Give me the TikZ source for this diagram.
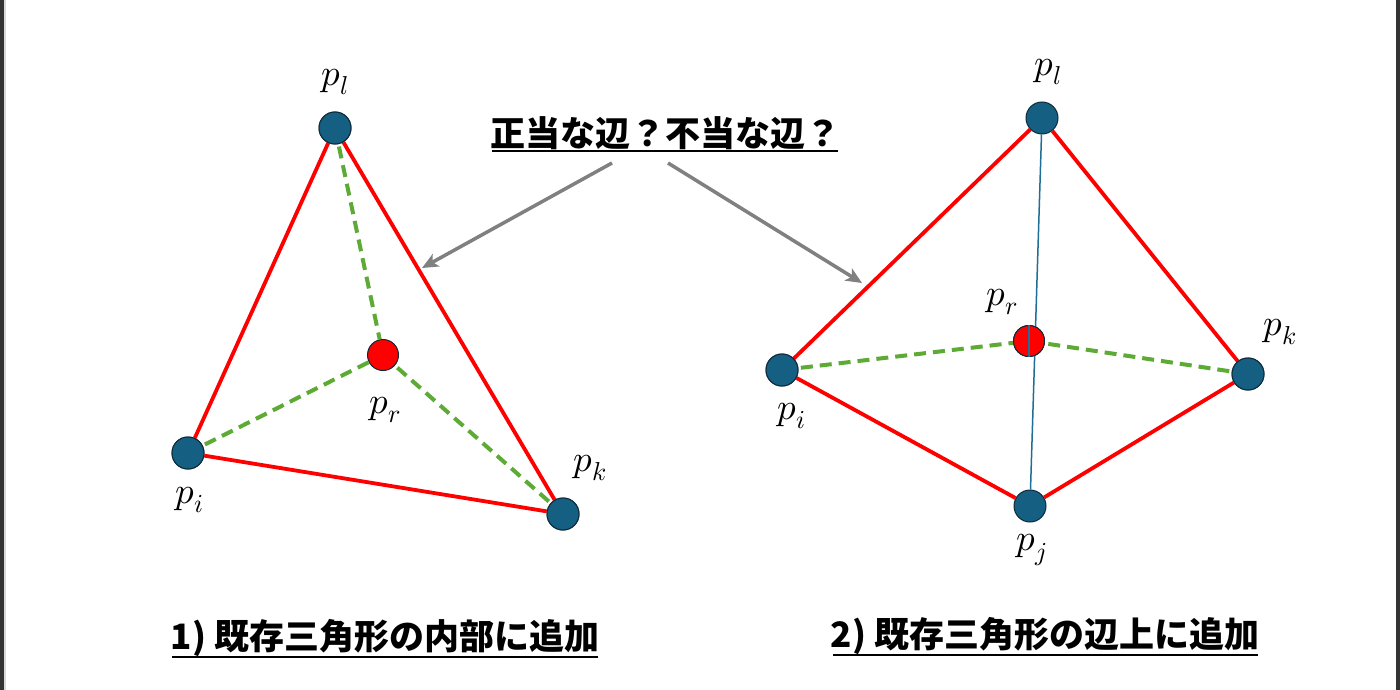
\documentclass[tikz,border=0pt]{standalone}
\usepackage{fontspec}
\usepackage{unicode-math}
\setmathfont{Latin Modern Math}
\newfontfamily\cjk{Noto Sans CJK JP}
\usetikzlibrary{arrows.meta}
\definecolor{ptblue}{HTML}{155F82}
\definecolor{ptedge}{HTML}{0E2A3A}
\definecolor{greend}{HTML}{5DAA35}
\definecolor{arrgray}{HTML}{808080}
\definecolor{thinblue}{HTML}{1F6E95}
\tikzset{
  pt/.style={circle, fill=ptblue, draw=ptedge, line width=1pt, minimum size=32pt, inner sep=0pt},
  rpt/.style={circle, fill=red, draw=ptedge, line width=1pt, minimum size=31pt, inner sep=0pt},
  redge/.style={draw=red, line width=3.8pt},
  gedge/.style={draw=greend, line width=4pt, dash pattern=on 12pt off 7pt},
  bedge/.style={draw=thinblue, line width=1.5pt},
  garrow/.style={draw=arrgray, line width=3.5pt, -{Stealth[length=16pt,width=14pt,inset=4pt]}},
  lbl/.style={font=\fontsize{37}{42}\selectfont, inner sep=0pt},
  jtxt/.style={font=\cjk\bfseries\fontsize{35}{40}\selectfont, inner sep=0pt},
  uline/.style={line width=2.5pt}
}
\begin{document}
\begin{tikzpicture}[x=1pt,y=-1pt]
\useasboundingbox (0,0) rectangle (1400,690);
\fill[white] (0,0) rectangle (1400,690);
\fill[black!80] (0,0) rectangle (4,690);
\fill[black!15] (4,0) rectangle (6,690);
\fill[black!80] (1396,0) rectangle (1400,690);
% left diagram
\node[pt]  (Ll) at (335,128) {};
\node[pt]  (Li) at (188,453) {};
\node[pt]  (Lk) at (563,514) {};
\node[rpt] (Lr) at (383,355) {};
\draw[redge] (Ll) -- (Li);
\draw[redge] (Ll) -- (Lk);
\draw[redge] (Li) -- (Lk);
\draw[gedge] (Ll.center) -- (Lr);
\draw[gedge] (Li.center) -- (Lr);
\draw[gedge] (Lk.center) -- (Lr);
\node[pt]  at (Ll) {};
\node[pt]  at (Li) {};
\node[pt]  at (Lk) {};
\node[lbl] (tLl) at (335,82) {$p_l$};
\node[lbl] (tLi) at (190,500) {$p_i$};
\node[lbl] (tLk) at (590,468) {$p_k$};
\node[lbl] (tLr) at (385,410) {$p_r$};
% right diagram
\node[pt]  (Rl) at (1042,118) {};
\node[pt]  (Ri) at (782,370) {};
\node[pt]  (Rk) at (1248,374) {};
\node[pt]  (Rj) at (1030,506) {};
\node[rpt] (Rr) at (1029,341) {};
\draw[bedge] (Rl) -- (Rj);
\draw[redge] (Rl) -- (Ri);
\draw[redge] (Rl) -- (Rk);
\draw[redge] (Ri) -- (Rj);
\draw[redge] (Rj) -- (Rk);
\draw[gedge] (Ri.center) -- (Rr);
\draw[gedge] (Rk.center) -- (Rr);
\node[pt]  at (Ri) {};
\node[pt]  at (Rk) {};
\node[rpt] at (Rr) {};
\draw[bedge] (Rr.north) -- (Rr.south);
\node[lbl] (tRl) at (1048,72) {$p_l$};
\node[lbl] (tRi) at (792,416) {$p_i$};
\node[lbl] (tRk) at (1280,332) {$p_k$};
\node[lbl] (tRj) at (1032,550) {$p_j$};
\node[lbl] (tRr) at (1002,302) {$p_r$};
% title and arrows
\node[jtxt] (title) at (665,133) {正当な辺？不当な辺？};
\draw[uline] (492,151) -- (838,151);
\coordinate (a1s) at (612,163);
\coordinate (a1e) at (422,268);
\coordinate (a2s) at (668,163);
\coordinate (a2e) at (862,283);
\draw[garrow] (a1s) -- (a1e);
\draw[garrow] (a2s) -- (a2e);
% captions
\node[jtxt] (cap1) at (385,638) {1) 既存三角形の内部に追加};
\draw[uline] (172,657) -- (598,657);
\node[jtxt] (cap2) at (1045,636) {2) 既存三角形の辺上に追加};
\draw[uline] (833,655) -- (1258,655);
\end{tikzpicture}
\end{document}
